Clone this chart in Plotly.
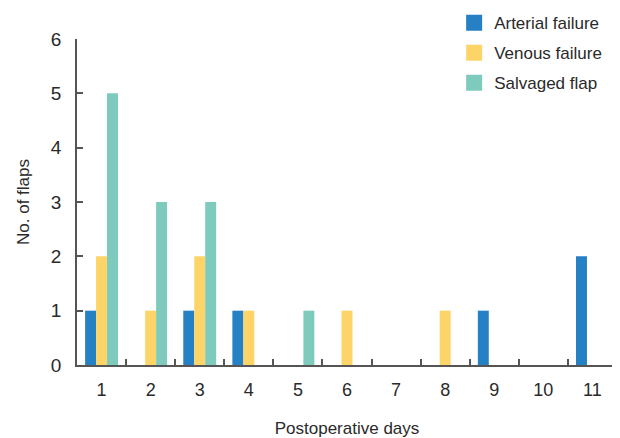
import plotly.graph_objects as go

days = ["1", "2", "3", "4", "5", "6", "7", "8", "9", "10", "11"]
arterial = [1, 0, 1, 1, 0, 0, 0, 0, 1, 0, 2]
venous = [2, 1, 2, 1, 0, 1, 0, 1, 0, 0, 0]
salvaged = [5, 3, 3, 0, 1, 0, 0, 0, 0, 0, 0]
series_names = ["Arterial failure", "Venous failure", "Salvaged flap"]
colors = ["#2680C4", "#FDD467", "#7ECBBE"]
y_ticks = [0, 1, 2, 3, 4, 5, 6]

fig = go.Figure()
for i, (name, vals, col) in enumerate(zip(series_names, [arterial, venous, salvaged], colors)):
    fig.add_trace(go.Bar(x=days, y=vals, name=name, marker=dict(color=col, line=dict(width=0)),
                         showlegend=False, textposition="none", hoverinfo="skip"))
# legend entries with larger square swatches
for i, (name, col) in enumerate(zip(series_names, colors)):
    fig.add_trace(go.Scatter(x=[None], y=[None], mode="markers", name=name,
                             marker=dict(symbol="square", size=16, color=col),
                             legendgroup=f"g{i}", showlegend=True, hoverinfo="skip"))

# page body has an 8px default margin: figure is shifted by 8px, so size/margins compensate
font_family = "Liberation Sans, Arial, Helvetica, sans-serif"
fig.update_layout(
    width=612, height=430,
    paper_bgcolor="white", plot_bgcolor="white",
    margin=dict(l=69, r=3, t=31, b=73, autoexpand=False),
    barmode="group", bargap=0.33, bargroupgap=0,
    hovermode=False,
    font=dict(family=font_family, size=17, color="#2a2a2a"),
    legend=dict(x=0.729, y=1.104, xref="container", yref="paper",
                xanchor="left", yanchor="top",
                font=dict(size=17, color="#2a2a2a"), tracegroupgap=5,
                bgcolor="rgba(0,0,0,0)", itemwidth=30),
    showlegend=True,
)
fig.update_xaxes(
    type="category", categoryorder="array", categoryarray=days,
    showline=True, linecolor="#555555", linewidth=1.5,
    ticks="inside", tickson="boundaries", ticklen=6, tickcolor="#555555", tickwidth=1.5,
    showgrid=False, zeroline=False, automargin=False,
    title=dict(text="Postoperative days", font=dict(size=17), standoff=26),
    tickfont=dict(size=18), ticklabelstandoff=8,
)
fig.update_yaxes(
    range=[0, 6], tickvals=y_ticks, showline=True, linecolor="#555555", linewidth=1.5,
    ticks="inside", ticklen=6, tickcolor="#555555", tickwidth=1.5,
    showgrid=False, zeroline=False, automargin=False,
    title=dict(text="No. of flaps", font=dict(size=17), standoff=17),
    tickfont=dict(size=19), ticklabelstandoff=10,
)
fig.write_html("out.html", config={"displayModeBar": False})
